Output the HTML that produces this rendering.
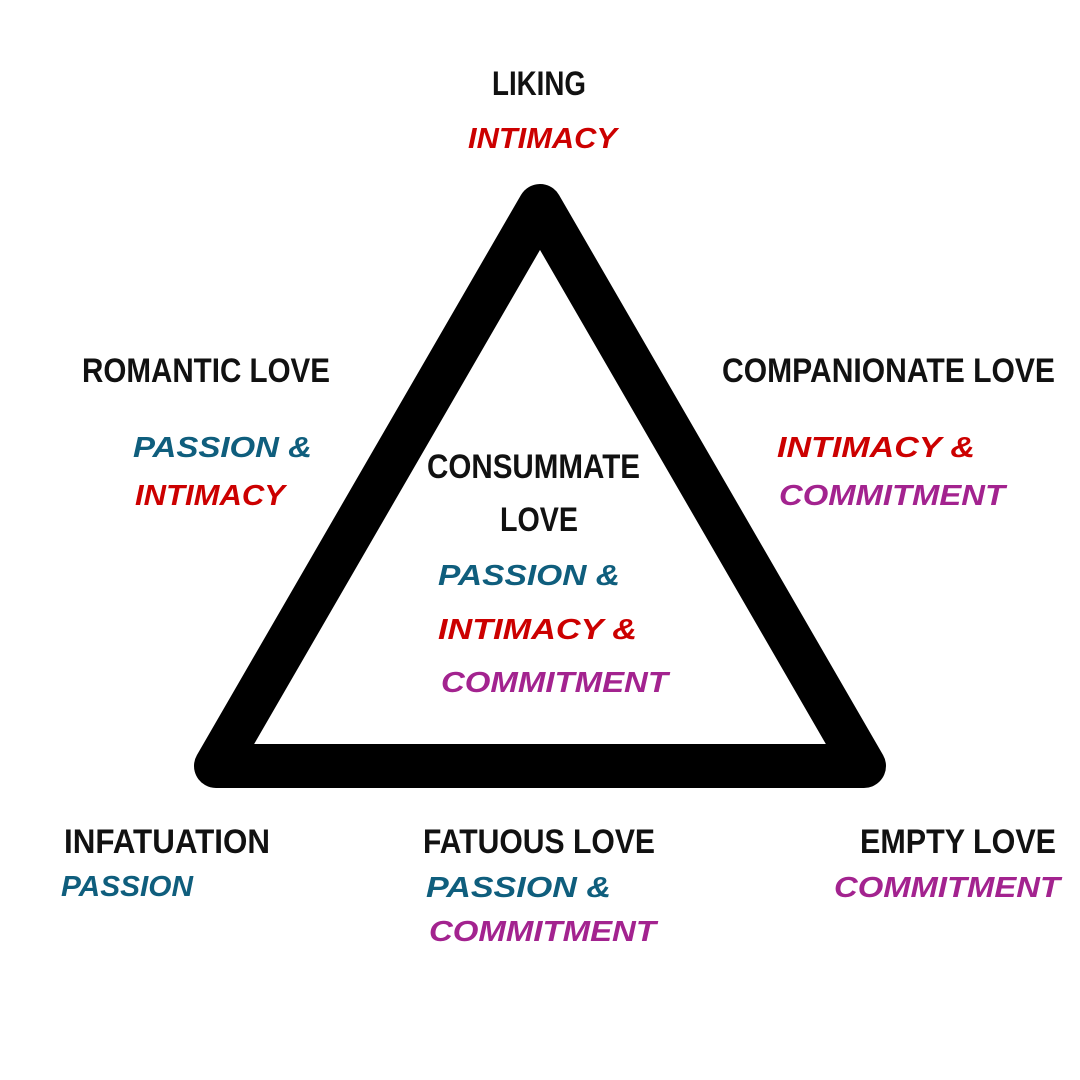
<!DOCTYPE html>
<html><head><meta charset="utf-8"><style>
html,body{margin:0;padding:0;background:#fff;width:1080px;height:1080px;overflow:hidden}
svg{display:block}
.b{font-family:"Liberation Sans",sans-serif;font-weight:bold;font-size:34px;fill:#111}
.c{font-family:"Liberation Sans",sans-serif;font-weight:bold;font-style:italic;font-size:29px}
.r{fill:#cc0000}.t{fill:#0f5e7d}.p{fill:#a3238f}
</style></head><body>
<svg width="1080" height="1080" viewBox="0 0 1080 1080">
<polygon points="540,206 216,766 864,766" fill="none" stroke="#000" stroke-width="44" stroke-linejoin="round"/>
<text class="b" x="492" y="95" textLength="94" lengthAdjust="spacingAndGlyphs">LIKING</text>
<text class="c r" x="468" y="148" textLength="149" lengthAdjust="spacingAndGlyphs">INTIMACY</text>
<text class="b" x="82" y="382" textLength="248" lengthAdjust="spacingAndGlyphs">ROMANTIC LOVE</text>
<text class="c t" x="133" y="457" textLength="179" lengthAdjust="spacingAndGlyphs">PASSION  &amp;</text>
<text class="c r" x="135" y="505" textLength="150" lengthAdjust="spacingAndGlyphs">INTIMACY</text>
<text class="b" x="722" y="382" textLength="333" lengthAdjust="spacingAndGlyphs">COMPANIONATE LOVE</text>
<text class="c r" x="777" y="457" textLength="198" lengthAdjust="spacingAndGlyphs">INTIMACY  &amp;</text>
<text class="c p" x="779" y="505" textLength="226" lengthAdjust="spacingAndGlyphs">COMMITMENT</text>
<text class="b" x="427" y="478" textLength="213" lengthAdjust="spacingAndGlyphs">CONSUMMATE</text>
<text class="b" x="500" y="531" textLength="78" lengthAdjust="spacingAndGlyphs">LOVE</text>
<text class="c t" x="438" y="585" textLength="182" lengthAdjust="spacingAndGlyphs">PASSION  &amp;</text>
<text class="c r" x="438" y="639" textLength="199" lengthAdjust="spacingAndGlyphs">INTIMACY  &amp;</text>
<text class="c p" x="441" y="692" textLength="227" lengthAdjust="spacingAndGlyphs">COMMITMENT</text>
<text class="b" x="64" y="853" textLength="206" lengthAdjust="spacingAndGlyphs">INFATUATION</text>
<text class="c t" x="61" y="896" textLength="132" lengthAdjust="spacingAndGlyphs">PASSION</text>
<text class="b" x="423" y="853" textLength="232" lengthAdjust="spacingAndGlyphs">FATUOUS LOVE</text>
<text class="c t" x="426" y="897" textLength="185" lengthAdjust="spacingAndGlyphs">PASSION  &amp;</text>
<text class="c p" x="429" y="941" textLength="227" lengthAdjust="spacingAndGlyphs">COMMITMENT</text>
<text class="b" x="860" y="853" textLength="196" lengthAdjust="spacingAndGlyphs">EMPTY LOVE</text>
<text class="c p" x="834" y="897" textLength="226" lengthAdjust="spacingAndGlyphs">COMMITMENT</text>
</svg>
</body></html>
